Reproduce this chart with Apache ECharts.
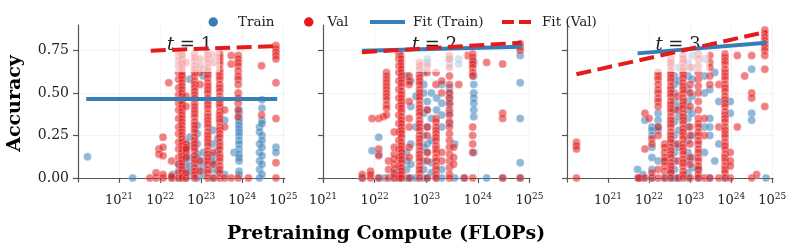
<!DOCTYPE html>
<html><head><meta charset="utf-8">
<script src="https://cdn.jsdelivr.net/npm/echarts@6/dist/echarts.min.js"></script>
<style>html,body{margin:0;padding:0;background:#fff}#c{width:793px;height:249px}</style>
</head><body><div id="c"></div><script>
// x = log10(pretraining FLOPs), y = accuracy
const xTickExps = [21, 22, 23, 24, 25];
const yTicks = [0, 0.25, 0.5, 0.75];
const panelNames = ['1', '2', '3'];

// ---- t = 1 ----
const t1Train = [
  [20.23, [0.125]], [21.33, [0.0]], [22.3, [0.0, 0.02]], [22.45, [0.04, 0.0, 0.08]],
  [22.62, [0.0, 0.02, 0.05, 0.09, 0.13, 0.18, 0.21, 0.16, 0.11]],
  [22.72, [0.03, 0.07, 0.12, 0.19, 0.24, 0.58]],
  [22.9, [0.0, 0.04, 0.08, 0.14, 0.2, 0.26, 0.31, 0.12]],
  [23.05, [0.02, 0.06, 0.1, 0.15, 0.6, 0.64]],
  [23.28, [0.0, 0.05, 0.1, 0.13, 0.2, 0.28, 0.09]],
  [23.4, [0.04, 0.16, 0.23]], [23.57, [0.34, 0.02]], [23.8, [0.15]],
  [23.92, [0.4, 0.38, 0.35, 0.33, 0.31, 0.29, 0.27, 0.25, 0.22, 0.2, 0.17, 0.14, 0.12, 0.1, 0.04, 0.02]],
  [24.42, [0.3, 0.27, 0.2, 0.15, 0.1, 0.05, 0.0]],
  [24.48, [0.46, 0.41, 0.34, 0.32, 0.25, 0.22, 0.18, 0.13, 0.08, 0.02]],
  [24.82, [0.18, 0.15]]
];
const t1Val = [
  [21.75, [0.0]], [21.9, [0.0, 0.03]], [21.97, [0.17, 0.14]],
  [22.07, [0.24, 0.18, 0.13, 0.0, 0.02]], [22.21, [0.56]], [22.28, [0.0, 0.01, 0.1]],
  [22.45, [0.72, 0.69, 0.66, 0.62, 0.58, 0.53, 0.49, 0.44, 0.4, 0.35, 0.3, 0.26, 0.21, 0.17, 0.12, 0.08, 0.03, 0.0]],
  [22.53, [0.73, 0.72, 0.7, 0.68, 0.67, 0.65, 0.63, 0.61, 0.6, 0.58, 0.56, 0.54, 0.52, 0.5, 0.48, 0.46, 0.45, 0.43, 0.41, 0.39, 0.37, 0.35, 0.33, 0.31, 0.29, 0.27, 0.25, 0.23, 0.21, 0.19, 0.17, 0.15, 0.13, 0.11, 0.09, 0.07, 0.05, 0.03, 0.01, 0.0]],
  [22.63, [0.15, 0.2, 0.18, 0.12, 0.17, 0.0, 0.03, 0.48, 0.42, 0.68]],
  [22.84, [0.73, 0.71, 0.69, 0.66, 0.64, 0.62, 0.6, 0.57, 0.55, 0.53, 0.51, 0.49, 0.47, 0.44, 0.42, 0.4, 0.38, 0.36, 0.33, 0.31, 0.29, 0.27, 0.24, 0.22, 0.2, 0.18, 0.16, 0.13, 0.11, 0.09, 0.06, 0.04, 0.02, 0.0]],
  [22.97, [0.7, 0.66, 0.62, 0.55, 0.1, 0.04]],
  [23.16, [0.74, 0.72, 0.7, 0.68, 0.65, 0.63, 0.61, 0.59, 0.56, 0.54, 0.52, 0.5, 0.47, 0.45, 0.43, 0.41, 0.38, 0.36, 0.34, 0.32, 0.3, 0.27, 0.25, 0.23, 0.21, 0.19, 0.16, 0.14, 0.12, 0.1, 0.08, 0.05, 0.03, 0.0]],
  [23.3, [0.15, 0.08, 0.72, 0.68, 0.0]],
  [23.45, [0.73, 0.71, 0.69, 0.67, 0.64, 0.62, 0.6, 0.58, 0.55, 0.53, 0.51, 0.48, 0.46, 0.44, 0.42, 0.39, 0.37, 0.35, 0.33, 0.3, 0.28, 0.26, 0.24, 0.21, 0.19, 0.17, 0.14, 0.12, 0.1, 0.07, 0.05, 0.03, 0.0]],
  [23.57, [0.4, 0.3, 0.0]], [23.73, [0.72, 0.67, 0.0]],
  [23.9, [0.72, 0.7, 0.68, 0.66, 0.63, 0.6, 0.58, 0.55, 0.5, 0.47, 0.44, 0.4, 0.36, 0.0]],
  [24.15, [0.0]], [24.47, [0.66, 0.37]],
  [24.82, [0.78, 0.76, 0.74, 0.72, 0.7, 0.56, 0.35, 0.09, 0.0]]
];
const t1FitTrain = [[20.2, 0.465], [24.85, 0.465]];
const t1FitVal = [[21.77, 0.749], [24.85, 0.776]];

// ---- t = 2 ----
const t2Train = [
  [21.76, [0.0]], [21.95, [0.16]], [22.08, [0.24, 0.14, 0.0]], [22.2, [0.0]],
  [22.38, [0.0, 0.03]], [22.5, [0.0, 0.05, 0.12]],
  [22.62, [0.15, 0.1, 0.05, 0.0, 0.6]], [22.7, [0.57, 0.42, 0.2, 0.0, 0.08]],
  [22.8, [0.48, 0.3, 0.0]],
  [22.95, [0.62, 0.55, 0.5, 0.38, 0.25, 0.18, 0.1, 0.05, 0.0]],
  [23.02, [0.45, 0.4, 0.3, 0.2, 0.15, 0.0, 0.7, 0.68]],
  [23.1, [0.5, 0.35, 0.22, 0.09, 0.03]], [23.2, [0.47, 0.4, 0.0]],
  [23.3, [0.55, 0.44, 0.37, 0.3, 0.05, 0.0]],
  [23.45, [0.53, 0.5, 0.47, 0.43, 0.38, 0.32, 0.67, 0.7]],
  [23.55, [0.2, 0.0]], [23.63, [0.7, 0.67]], [23.73, [0.0]],
  [23.92, [0.68, 0.6, 0.55, 0.5, 0.47, 0.44, 0.4, 0.36, 0.15]],
  [24.17, [0.0]], [24.48, [0.0]], [24.82, [0.72, 0.56, 0.35, 0.09, 0.0]]
];
const t2Val = [
  [21.76, [0.0, 0.02]], [21.92, [0.0, 0.04, 0.02]], [21.95, [0.35]],
  [22.08, [0.35, 0.17, 0.13, 0.0]], [22.17, [0.36]],
  [22.23, [0.62, 0.6, 0.58, 0.56, 0.54, 0.52, 0.5, 0.48, 0.46, 0.43, 0.41, 0.37]],
  [22.27, [0.0, 0.05, 0.1]], [22.38, [0.0, 0.02, 0.05, 0.08, 0.11, 0.14, 0.18, 0.27]],
  [22.47, [0.73, 0.7, 0.66, 0.62, 0.57, 0.52, 0.47, 0.42, 0.37, 0.32, 0.27, 0.22, 0.17, 0.12, 0.07, 0.02, 0.0]],
  [22.52, [0.72, 0.7, 0.68, 0.66, 0.64, 0.62, 0.6, 0.58, 0.56, 0.54, 0.51, 0.49, 0.47, 0.45, 0.43, 0.41, 0.39, 0.36, 0.34, 0.32, 0.3, 0.28, 0.26, 0.24, 0.21, 0.19, 0.17, 0.15, 0.13, 0.11, 0.09, 0.06, 0.04, 0.02, 0.0]],
  [22.67, [0.6, 0.57, 0.55, 0.3, 0.18, 0.12, 0.0, 0.45, 0.35]],
  [22.87, [0.68, 0.66, 0.64, 0.61, 0.59, 0.57, 0.55, 0.52, 0.5, 0.48, 0.46, 0.43, 0.41, 0.39, 0.37, 0.34, 0.32, 0.3, 0.28, 0.25, 0.23, 0.21, 0.19, 0.16, 0.14, 0.12, 0.1, 0.07, 0.05, 0.03, 0.0]],
  [23.02, [0.4, 0.3, 0.25, 0.15, 0.1, 0.0, 0.62, 0.66]],
  [23.19, [0.35, 0.33, 0.3, 0.28, 0.26, 0.24, 0.22, 0.19, 0.17, 0.15, 0.12, 0.1, 0.07, 0.05, 0.02, 0.0, 0.55, 0.62]],
  [23.3, [0.57, 0.5, 0.15, 0.1]],
  [23.45, [0.72, 0.7, 0.65, 0.6, 0.55, 0.5, 0.47, 0.44, 0.4, 0.37, 0.33, 0.3, 0.26, 0.22, 0.18, 0.14, 0.1, 0.06, 0.02, 0.0]],
  [23.53, [0.18, 0.12, 0.08]], [23.63, [0.55]], [23.74, [0.0]], [23.79, [0.72]],
  [23.9, [0.73, 0.71, 0.69, 0.67, 0.65, 0.62, 0.6, 0.3, 0.25, 0.2, 0.15, 0.0]],
  [24.17, [0.68]], [24.48, [0.67, 0.38, 0.35, 0.0]], [24.82, [0.79, 0.77, 0.75, 0.0]]
];
const t2FitTrain = [[21.755, 0.749], [24.85, 0.772]];
const t2FitVal = [[21.755, 0.74], [24.85, 0.796]];

// ---- t = 3 ----
const t3Train = [
  [21.72, [0.05, 0.0]], [21.85, [0.0, 0.02]], [21.9, [0.34]],
  [22.07, [0.3, 0.28, 0.25, 0.18, 0.12, 0.05, 0.0]],
  [22.22, [0.38, 0.34, 0.3, 0.28, 0.1]], [22.38, [0.1, 0.0]], [22.53, [0.03, 0.0]],
  [22.62, [0.6, 0.55, 0.5, 0.45, 0.4, 0.33, 0.25, 0.2, 0.15, 0.1, 0.05, 0.0]],
  [22.72, [0.65, 0.57, 0.42, 0.36, 0.28, 0.18, 0.0]],
  [22.95, [0.68, 0.6, 0.52, 0.45, 0.4, 0.35, 0.3, 0.22, 0.15, 0.1, 0.03, 0.0]],
  [23.05, [0.72, 0.65, 0.58, 0.48, 0.38, 0.25, 0.12, 0.06]],
  [23.2, [0.05, 0.0]], [23.35, [0.7, 0.6, 0.5, 0.3, 0.15]],
  [23.48, [0.52, 0.35, 0.3, 0.25, 0.0]], [23.6, [0.62, 0.1]], [23.7, [0.45, 0.2]],
  [23.85, [0.0]], [23.98, [0.45, 0.38]], [24.5, [0.64, 0.38, 0.34]], [24.85, [0.0]]
];
const t3Val = [
  [20.23, [0.21, 0.19, 0.17, 0.0]], [21.75, [0.0, 0.0]], [21.9, [0.38, 0.17, 0.0]],
  [22.0, [0.35]], [22.07, [0.23, 0.2, 0.0, 0.03]],
  [22.22, [0.62, 0.6, 0.58, 0.55, 0.52, 0.5, 0.47, 0.45, 0.42, 0.3, 0.25, 0.05, 0.0]],
  [22.38, [0.2, 0.18, 0.15, 0.12, 0.1, 0.07, 0.04, 0.0]],
  [22.53, [0.7, 0.68, 0.66, 0.63, 0.61, 0.59, 0.57, 0.54, 0.52, 0.5, 0.48, 0.45, 0.43, 0.41, 0.39, 0.36, 0.34, 0.32, 0.3, 0.27, 0.25, 0.23, 0.21, 0.18, 0.16, 0.14, 0.12, 0.09, 0.07, 0.05, 0.03, 0.0]],
  [22.7, [0.48, 0.4, 0.2, 0.1, 0.0]],
  [22.83, [0.72, 0.7, 0.68, 0.65, 0.63, 0.61, 0.59, 0.56, 0.54, 0.52, 0.5, 0.47, 0.45, 0.43, 0.41, 0.38, 0.36, 0.34, 0.32, 0.29, 0.27, 0.25, 0.23, 0.2, 0.18, 0.16, 0.14, 0.11, 0.09, 0.07, 0.04, 0.02, 0.0]],
  [23.0, [0.65, 0.55, 0.5, 0.42, 0.3, 0.25, 0.2, 0.12, 0.08, 0.0]],
  [23.2, [0.73, 0.7, 0.66, 0.62, 0.58, 0.54, 0.5, 0.45, 0.4, 0.35, 0.32, 0.3, 0.27, 0.25, 0.22, 0.2, 0.17, 0.15, 0.12, 0.1, 0.07, 0.05, 0.02, 0.0]],
  [23.35, [0.35, 0.25, 0.0]], [23.48, [0.72, 0.68, 0.65, 0.6, 0.55, 0.0]],
  [23.7, [0.55, 0.3, 0.0]],
  [23.85, [0.73, 0.71, 0.69, 0.67, 0.64, 0.62, 0.6, 0.58, 0.55, 0.53, 0.51, 0.48, 0.46, 0.44, 0.42, 0.39, 0.37, 0.35, 0.33, 0.3, 0.28, 0.26, 0.24, 0.21, 0.19, 0.17, 0.14, 0.12, 0.1, 0.07, 0.05, 0.03, 0.0]],
  [23.98, [0.15, 0.1, 0.07, 0.0]], [24.15, [0.72, 0.3]], [24.33, [0.6]],
  [24.5, [0.72, 0.5, 0.47, 0.0]], [24.62, [0.02]],
  [24.82, [0.87, 0.85, 0.83, 0.81, 0.79, 0.77, 0.75, 0.72, 0.64, 0.42]]
];
const t3FitTrain = [[21.72, 0.733], [24.86, 0.796]];
const t3FitVal = [[20.23, 0.61], [24.86, 0.86]];

const panels = [
  { train: t1Train, val: t1Val, fitTrain: t1FitTrain, fitVal: t1FitVal },
  { train: t2Train, val: t2Val, fitTrain: t2FitTrain, fitVal: t2FitVal },
  { train: t3Train, val: t3Val, fitTrain: t3FitTrain, fitVal: t3FitVal }
];

const BLUE = '#377eb8', RED = '#e41a1c';
const SERIF = 'DejaVu Serif';
const gridBoxes = [
  { left: 78, top: 25, width: 207, height: 157 },
  { left: 323, top: 25, width: 207, height: 157 },
  { left: 567, top: 25, width: 206, height: 157 }
];
const xRanges = [[20, 25.04], [21, 25.01], [20, 25.02]];
const flat = cols => cols.flatMap(([x, ys]) => ys.map(y => [x, y]));

const axisLineStyle = { color: '#555', width: 1.2 };
const splitStyle = { show: true, lineStyle: { color: '#e2e2e2', type: 'dotted', width: 0.8 } };

const xAxes = gridBoxes.map((g, i) => ({
  type: 'value', gridIndex: i, min: xRanges[i][0], max: xRanges[i][1],
  axisLine: { show: true, lineStyle: axisLineStyle },
  axisTick: { show: true, length: 5, lineStyle: axisLineStyle, customValues: xTickExps },
  axisLabel: {
    customValues: xTickExps, margin: 10, color: '#222',
    formatter: v => '{b|10}{e|' + Math.round(v) + '}',
    rich: {
      b: { fontFamily: SERIF, fontSize: 13, color: '#222' },
      e: { fontFamily: SERIF, fontSize: 9, color: '#222', padding: [0, 0, 8, 0] }
    }
  },
  splitLine: splitStyle
}));
const yAxes = gridBoxes.map((g, i) => ({
  type: 'value', gridIndex: i, min: -0.024, max: 0.9,
  axisLine: { show: true, lineStyle: axisLineStyle },
  axisTick: { show: true, length: 5, lineStyle: axisLineStyle, customValues: yTicks },
  axisLabel: {
    show: i === 0, customValues: yTicks, margin: 9, color: '#222',
    fontFamily: SERIF, fontSize: 14, formatter: v => v.toFixed(2)
  },
  splitLine: splitStyle,
  name: i === 0 ? 'Accuracy' : '', nameLocation: 'middle', nameGap: 53,
  nameTextStyle: { fontFamily: SERIF, fontWeight: 'bold', fontSize: 19, color: '#000' }
}));

const series = [];
panels.forEach((p, i) => {
  series.push({
    type: 'scatter', name: 'Train', xAxisIndex: i, yAxisIndex: i, data: flat(p.train),
    symbolSize: 8, itemStyle: { color: BLUE, opacity: 0.55, borderColor: '#fff', borderWidth: 0.5 }, z: 2
  });
  series.push({
    type: 'scatter', name: 'Val', xAxisIndex: i, yAxisIndex: i, data: flat(p.val),
    symbolSize: 8, itemStyle: { color: RED, opacity: 0.55, borderColor: '#fff', borderWidth: 0.5 }, z: 2
  });
  series.push({
    type: 'line', name: 'Fit (Train)', xAxisIndex: i, yAxisIndex: i, data: p.fitTrain,
    symbol: 'none', lineStyle: { color: BLUE, width: 4 }, itemStyle: { color: BLUE }, z: 5
  });
  series.push({
    type: 'line', name: 'Fit (Val)', xAxisIndex: i, yAxisIndex: i, data: p.fitVal,
    symbol: 'none', lineStyle: { color: RED, width: 4, type: [15, 6.5] }, itemStyle: { color: RED }, z: 6
  });
});

const panelTitles = panelNames.map((n, i) => ({
  text: '{i|t}{n| = ' + n + '}',
  left: gridBoxes[i].left + gridBoxes[i].width / 2, top: 34, textAlign: 'center',
  backgroundColor: 'rgba(255,255,255,0.6)', padding: [2, 8, 18, 8], z: 3,
  textStyle: { fontWeight: 'normal', rich: {
    i: { fontFamily: SERIF, fontStyle: 'italic', fontWeight: 'normal', fontSize: 18, color: '#222' },
    n: { fontFamily: SERIF, fontWeight: 'normal', fontSize: 18, color: '#222' }
  } }
}));

const legendBase = (name, left, extra) => Object.assign({
  data: [name], left: left, top: 10, itemGap: 0, selectedMode: false,
  textStyle: { fontFamily: SERIF, fontSize: 13.5, color: '#222' }
}, extra);

const option = {
  animation: false,
  backgroundColor: '#fff',
  grid: gridBoxes,
  xAxis: xAxes,
  yAxis: yAxes,
  title: panelTitles.concat([{
    text: 'Pretraining Compute (FLOPs)', left: 222, top: 220,
    textStyle: { fontFamily: SERIF, fontWeight: 'bold', fontSize: 19, color: '#000' }
  }]),
  legend: [
    legendBase('Train', 203.5, { icon: 'circle', itemWidth: 9.5, itemHeight: 9.5, itemStyle: { opacity: 1, borderWidth: 0 },
      textStyle: { fontFamily: SERIF, fontSize: 13.5, color: '#222', padding: [0, 0, 0, 15] } }),
    legendBase('Val', 299, { icon: 'circle', itemWidth: 9.5, itemHeight: 9.5, itemStyle: { opacity: 1, borderWidth: 0 },
      textStyle: { fontFamily: SERIF, fontSize: 13.5, color: '#222', padding: [0, 0, 0, 9] } }),
    legendBase('Fit (Train)', 363, { itemWidth: 35, itemHeight: 14, itemStyle: { opacity: 0 },
      lineStyle: { width: 4 },
      textStyle: { fontFamily: SERIF, fontSize: 13.5, color: '#222', padding: [0, 0, 0, 3] } }),
    legendBase('Fit (Val)', 495, { itemWidth: 32, itemHeight: 14, itemStyle: { opacity: 0 },
      lineStyle: { width: 4, type: [12, 5] },
      textStyle: { fontFamily: SERIF, fontSize: 13.5, color: '#222', padding: [0, 0, 0, 3] } })
  ],
  series: series
};

const chart = echarts.init(document.getElementById('c'), null, { renderer: 'canvas' });
chart.setOption(option);
</script></body></html>
